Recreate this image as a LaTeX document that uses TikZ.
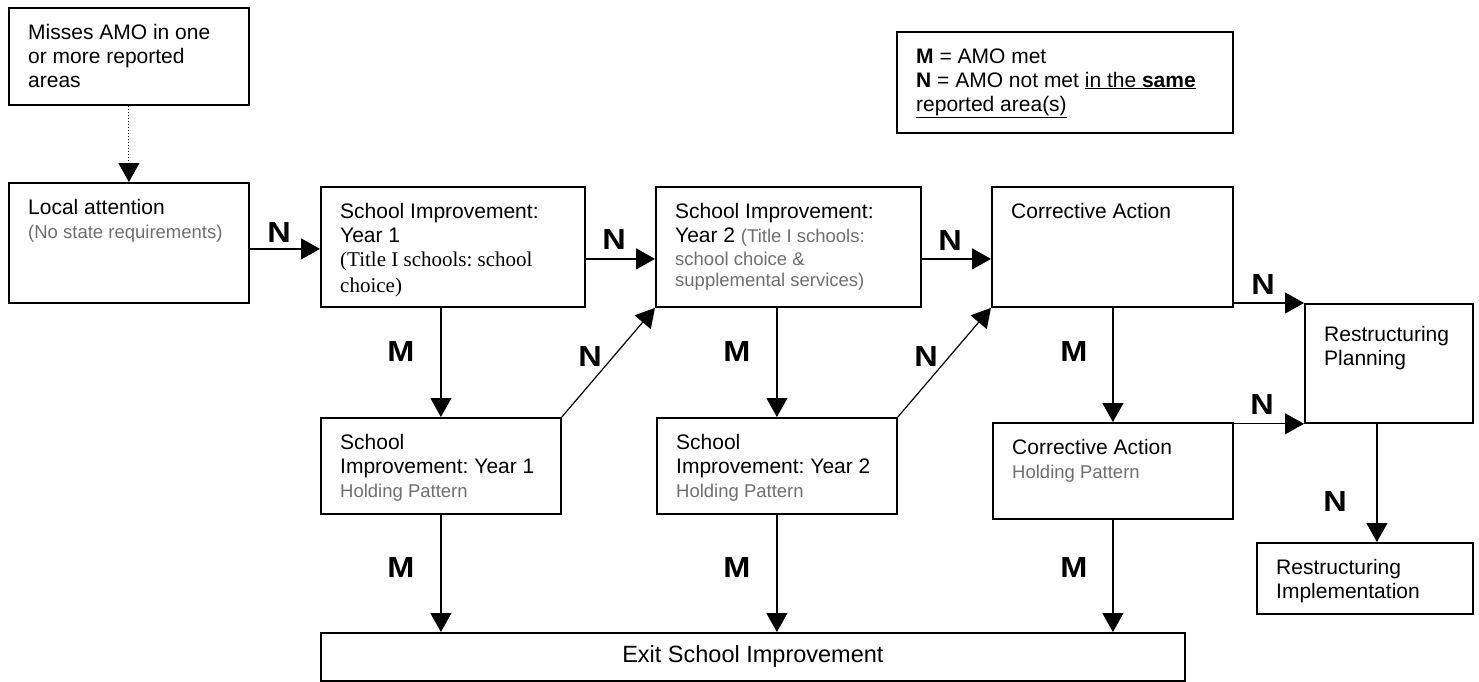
\documentclass[tikz,border=0pt]{standalone}
\usepackage{fontspec}
\usepackage{graphicx}
\setmainfont{Liberation Sans}
\newfontfamily\timesface{Liberation Serif}
\usetikzlibrary{arrows.meta,calc}
\definecolor{notegray}{RGB}{110,110,110}
\newcommand{\bodyfont}{\frenchspacing\fontsize{21}{24}\selectfont}
\newcommand{\notefont}{\fontsize{18.5}{22}\selectfont\color{notegray}}
\newcommand{\wlab}[1]{\scalebox{1.12}[1]{#1}}
\begin{document}
\begin{tikzpicture}[x=1pt,y=-1pt,
  box/.style={draw, line width=1.8pt, anchor=north west, inner sep=0pt},
  txt/.style={anchor=north west, inner xsep=20pt, inner ysep=15pt, align=left, font=\bodyfont},
  arr/.style={line width=1.2pt, -{Triangle[length=19pt,width=21pt]}},
  lab/.style={font=\bfseries\fontsize{29}{29}\selectfont, inner sep=0pt}]
\useasboundingbox (0,0) rectangle (1479,681);

% boxes
\node[box, minimum width=240pt, minimum height=97pt]  (miss) at (8,7) {};
\node[box, minimum width=240pt, minimum height=120pt] (local) at (8,182) {};
\node[box, minimum width=264pt, minimum height=120pt] (si1) at (320,186) {};
\node[box, minimum width=265pt, minimum height=120pt] (si2) at (655,186) {};
\node[box, minimum width=241pt, minimum height=120pt] (ca) at (991,186) {};
\node[box, minimum width=336pt, minimum height=101pt] (legend) at (896,31) {};
\node[box, minimum width=240pt, minimum height=96pt]  (sih1) at (320,417) {};
\node[box, minimum width=240pt, minimum height=96pt]  (sih2) at (656,417) {};
\node[box, minimum width=240pt, minimum height=96pt]  (cah) at (992,422) {};
\node[box, minimum width=168pt, minimum height=119pt] (rp) at (1304,303) {};
\node[box, minimum width=216pt, minimum height=71pt]  (ri) at (1256,542) {};
\node[box, minimum width=864pt, minimum height=48pt, font=\fontsize{23.5}{26}\selectfont] (exit) at (320,632) {Exit School Improvement};

% texts
\node[txt] (miss-t) at (miss.north west) {\strut Misses AMO in one\\ or more reported\\ areas};
\node[txt] (local-t) at (local.north west) {\strut Local attention\\ {\notefont (No state requirements)}};
\node[txt] (si1-t) at (si1.north west) {\strut School Improvement:\\ Year 1\\ {\timesface (Title I schools: school}\\[2pt] {\timesface choice)}};
\node[txt] (si2-t) at (si2.north west) {\strut School Improvement:\\ Year 2 {\notefont (Title I schools:}\\[-1pt] {\notefont school choice \&}\\[-3pt] {\notefont supplemental services)}};
\node[txt] (ca-t) at (ca.north west) {\strut Corrective Action};
\node[txt] (legend-t) at (legend.north west) {\strut\textbf{M} = AMO met\\ \textbf{N} = AMO not met \underline{in the \textbf{same}}\\ \underline{reported area(s)}};
\node[txt] (sih1-t) at (sih1.north west) {\strut School\\ Improvement: Year 1\\ {\notefont Holding Pattern}};
\node[txt] (sih2-t) at (sih2.north west) {\strut School\\ Improvement: Year 2\\ {\notefont Holding Pattern}};
\node[txt] (cah-t) at (cah.north west) {\strut Corrective Action\\ {\notefont Holding Pattern}};
\node[txt, inner ysep=21pt] (rp-t) at (rp.north west) {\strut Restructuring\\ Planning};
\node[txt] (ri-t) at (ri.north west) {\strut Restructuring\\ Implementation};

% connector anchor points
\coordinate (la) at ([yshift=-6pt]local.east);
\coordinate (s1a) at ([yshift=-12pt]si1.east);
\coordinate (s2a) at ([yshift=-12pt]si2.east);
\coordinate (rpa) at ([xshift=-12pt]rp.south);

% connectors
\draw[line width=1pt, dash pattern=on 1pt off 2pt, -{Triangle[length=19pt,width=21pt]}] (miss.south) -- (local.north);
\draw[arr] (la) -- (si1.west |- la);
\draw[arr] (s1a) -- (si2.west |- s1a);
\draw[arr] (s2a) -- (ca.west |- s2a);
\draw[arr] (si1.south -| sih1.north) -- (sih1.north);
\draw[arr] (si2.south -| sih2.north) -- (sih2.north);
\draw[arr] (ca.south -| cah.north) -- (cah.north);
\draw[arr] (sih1.north east) -- (si2.south west);
\draw[arr] (sih2.north east) -- (ca.south west);
\draw[arr] (sih1.south) -- (sih1.south |- exit.north);
\draw[arr] (sih2.south) -- (sih2.south |- exit.north);
\draw[arr] (cah.south) -- (cah.south |- exit.north);
\draw[arr] (ca.east |- rp.north west) -- (rp.north west);
\draw[arr] (cah.east |- rp.south west) -- (rp.south west);
\draw[arr] (rpa) -- (rpa |- ri.north);

% labels
\node[lab] (n1) at (279,233) {\wlab{N}};
\node[lab] (n2) at (614,240) {\wlab{N}};
\node[lab] (n3) at (950,241) {\wlab{N}};
\node[lab] (n4) at (1263,285) {\wlab{N}};
\node[lab] (n5) at (1262,405) {\wlab{N}};
\node[lab] (n6) at (590,357) {\wlab{N}};
\node[lab] (n7) at (926,357) {\wlab{N}};
\node[lab] (n8) at (1335,502) {\wlab{N}};
\node[lab] (m1) at (401,352) {\wlab{M}};
\node[lab] (m2) at (401,568) {\wlab{M}};
\node[lab] (m3) at (737,352) {\wlab{M}};
\node[lab] (m4) at (737,568) {\wlab{M}};
\node[lab] (m5) at (1074,352) {\wlab{M}};
\node[lab] (m6) at (1074,568) {\wlab{M}};
\end{tikzpicture}
\end{document}
